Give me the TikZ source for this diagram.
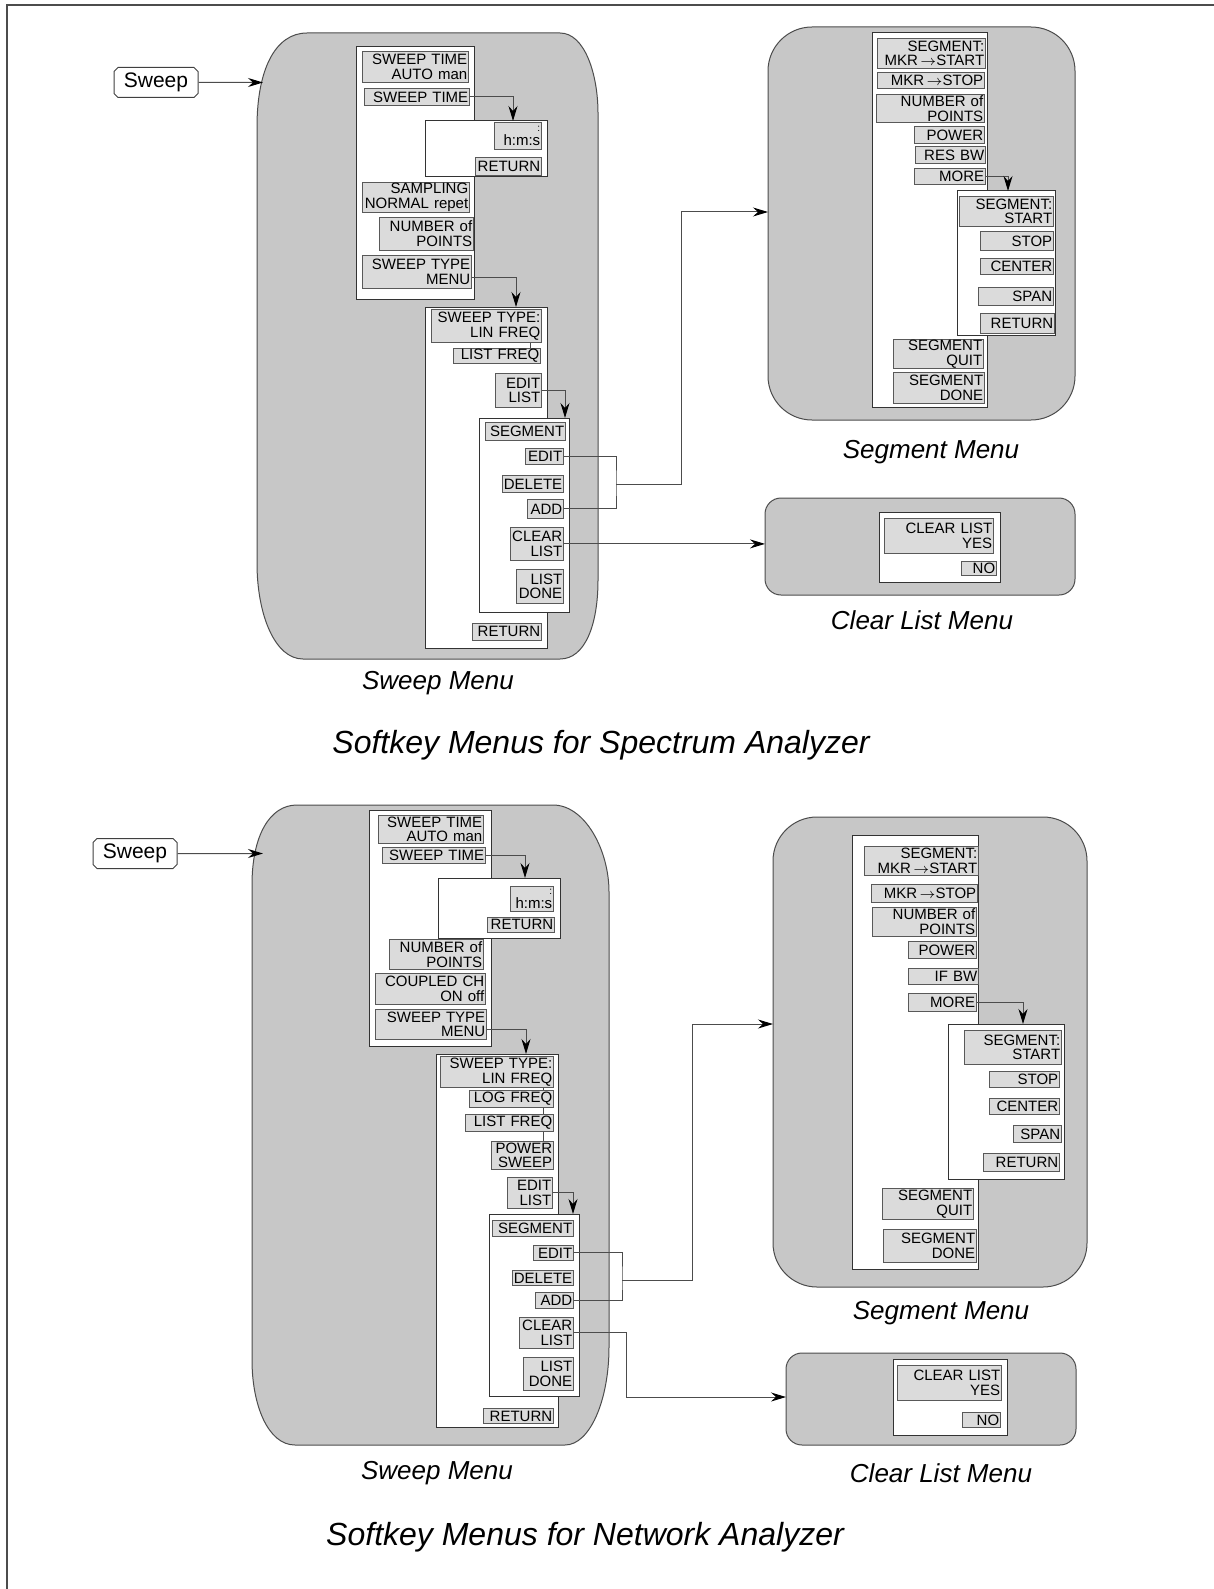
\documentclass[tikz,border=0pt]{standalone}
\usepackage{fontspec}
\setmainfont{Liberation Sans}
\usetikzlibrary{arrows.meta,shapes.misc,fit}

\tikzset{
  menubg/.style={draw=black!70, fill=black!22, line width=0.5pt},
  panel/.style={draw=black!80, fill=white, line width=0.5pt},
  softkey/.style={draw=black!65, fill=black!14, line width=0.4pt, inner xsep=0.6pt, inner ysep=0.3pt,
    align=right, anchor=north west, font=\fontsize{7.5}{7.4}\selectfont},
  hardkey/.style={chamfered rectangle, chamfered rectangle xsep=1pt, chamfered rectangle ysep=1pt,
    draw=black!75, fill=white, line width=0.5pt,
    minimum width=42pt, minimum height=15pt, inner sep=0pt, font=\fontsize{10.5}{12}\selectfont},
  link/.style={draw=black!70, line width=0.5pt},
  arr/.style={link, -{Stealth[length=7.5pt,width=4.5pt,inset=2.5pt,black]}},
  menulabel/.style={font=\fontsize{13}{15}\selectfont\itshape},
  titlelabel/.style={font=\fontsize{16}{19}\selectfont\itshape},
}
\newcommand\mkr{\,{\scriptsize$\rightarrow$}}

\begin{document}
\begin{tikzpicture}[x=0.5pt,y=-0.5pt]
    \useasboundingbox (0,0) rectangle (1214,1589);
    \draw[black!70, line width=0.6pt] (7,1589) -- (7,5) -- (1214,5);

    % ---------------- spectrum analyzer ----------------
    \draw[menubg] (257,127) .. controls (257,70) and (275,33) .. (307,33) -- (560,33)
        .. controls (585,33) and (598,75) .. (598,113) -- (598,580)
        .. controls (598,625) and (585,659) .. (560,659) -- (303,659)
        .. controls (275,659) and (257,615) .. (257,563) -- cycle;
    \draw[menubg, rounded corners=22pt] (768,27) rectangle (1075,420);
    \draw[menubg, rounded corners=8pt] (765,498) rectangle (1075,595);

    \node[panel, inner sep=0pt, fit={(356,47) (474,299)}] (swA) {};
    \node[panel, inner sep=0pt, fit={(425,121) (547,177)}] (hmsA) {};
    \node[panel, inner sep=0pt, fit={(425,307) (547,648)}] (typeA) {};
    \node[panel, inner sep=0pt, fit={(479,418) (569,612)}] (listA) {};
    \node[panel, inner sep=0pt, fit={(872,33) (987,407)}] (segA) {};
    \node[panel, inner sep=0pt, fit={(957,191) (1055,335)}] (moreA) {};
    \node[panel, inner sep=0pt, fit={(879,512) (1000,582)}] (clrA) {};

    \foreach \nm/\xa/\ya/\xb/\yb/\txt in {
        sA1/362/51/468/82/{SWEEP~TIME\\AUTO~man}, sA2/364/88/469/105/{SWEEP~TIME},
        sA3/362/182/469/212/{SAMPLING\\NORMAL~repet}, sA4/379/217/473/250/{NUMBER~of\\POINTS},
        sA5/362/255/471/288/{SWEEP~TYPE\\MENU},
        sB1/494/122/541/149/{{\tiny :}\hspace*{9pt}\\h:m:s}, sB2/475/157/541/175/{RETURN},
        sC1/431/309/541/342/{SWEEP~TYPE:\\LIN~FREQ}, sC2/453/348/540/363/{LIST~FREQ},
        sC3/495/373/541/407/{EDIT\\LIST}, sC4/472/623/541/640/{RETURN},
        sD1/485/422/565/440/{SEGMENT}, sD2/525/448/563/464/{EDIT},
        sD3/502/475/563/492/{DELETE}, sD4/527/499/563/518/{ADD},
        sD5/510/527/563/560/{CLEAR\\LIST}, sD6/516/569/563/603/{LIST\\DONE},
        eE1/877/38/985/68/{SEGMENT:\\MKR\mkr START}, eE2/877/72/984/88/{MKR\mkr STOP},
        eE3/876/94/984/122/{NUMBER~of\\POINTS}, eE4/914/126/984/143/{POWER},
        eE5/915/146/985/163/{RES~BW}, eE6/914/168/985/184/{MORE},
        eE7/893/339/983/368/{SEGMENT\\QUIT}, eE8/893/372/984/403/{SEGMENT\\DONE},
        fF1/959/196/1053/226/{SEGMENT:\\START}, fF2/980/231/1053/250/{STOP},
        fF3/980/258/1053/274/{CENTER}, fF4/978/287/1053/305/{SPAN},
        fF5/980/313/1054/333/{RETURN},
        gG1/884/518/993/553/{CLEAR~LIST\\YES}, gG2/961/561/996/575/{NO}}{
        \pgfmathsetmacro\kw{(\xb-\xa)/2-1.2}
        \pgfmathsetmacro\kh{(\yb-\ya)/2}
        \node[softkey, text width=\kw pt, minimum height=\kh pt] (\nm) at (\xa,\ya) {\txt};
    }

    \node[hardkey] (hkA) at (156,82.5) {Sweep};
    \coordinate (swTipA) at (263,82.5);
    \coordinate (tipB) at (513,121);
    \coordinate (tipC) at (516,307);
    \coordinate (tipD) at (565,418);
    \coordinate (tipF) at (1008,191);
    \coordinate (brA) at (616,484);
    \coordinate (segTipA) at (768,212);
    \coordinate (clrTipA) at (765,545);

    \draw[arr] (hkA) -- (swTipA);
    \draw[arr] (sA2.east) -| (tipB);
    \draw[arr] ([yshift=-3pt]sA5.east) -| (tipC);
    \draw[arr] (sC3.east) -| (tipD);
    \draw[arr] (eE6.east) -| (tipF);
    \draw[link] ([xshift=-5.5pt]sC1.south east) -- ([xshift=-5.5pt]sC1.south east |- sC2.north);
    \draw[link] (sD2.east) -| (brA) |- (sD4.east);
    \draw[arr] (brA) -- (681,484) |- (segTipA);
    \draw[arr] (sD5.east) -- (sD5.east -| clrTipA);

    \node[menulabel] (lblSwA) at (438,683) {Sweep Menu};
    \node[menulabel] (lblSegA) at (931,452) {Segment Menu};
    \node[menulabel] (lblClrA) at (922,620) {Clear List Menu};
    \node[titlelabel] (titleA) at (601,745) {Softkey Menus for Spectrum Analyzer};

    % ---------------- network analyzer ----------------
    \draw[menubg] (252,885) .. controls (252,835) and (270,805) .. (297,805) -- (553,805)
        .. controls (585,805) and (609,850) .. (609,892) -- (609,1347)
        .. controls (609,1400) and (590,1445) .. (565,1445) -- (295,1445)
        .. controls (268,1445) and (252,1405) .. (252,1360) -- cycle;
    \draw[menubg, rounded corners=22pt] (773,817) rectangle (1087,1287);
    \draw[menubg, rounded corners=8pt] (786,1353) rectangle (1076,1445);

    \node[panel, inner sep=0pt, fit={(369,810) (491,1046)}] (swB) {};
    \node[panel, inner sep=0pt, fit={(438,878) (560,938)}] (hmsB) {};
    \node[panel, inner sep=0pt, fit={(436,1054) (558,1427)}] (typeB) {};
    \node[panel, inner sep=0pt, fit={(489,1214) (579,1396)}] (listB) {};
    \node[panel, inner sep=0pt, fit={(852,835) (978,1269)}] (segB) {};
    \node[panel, inner sep=0pt, fit={(948,1024) (1064,1179)}] (moreB) {};
    \node[panel, inner sep=0pt, fit={(893,1359) (1007,1435)}] (clrB) {};

    \foreach \nm/\xa/\ya/\xb/\yb/\txt in {
        hH1/378/815/483/843/{SWEEP~TIME\\AUTO~man}, hH2/382/847/485/863/{SWEEP~TIME},
        hH3/389/939/483/969/{NUMBER~of\\POINTS}, hH4/375/973/485/1004/{COUPLED~CH\\ON~off},
        hH5/375/1009/486/1039/{SWEEP~TYPE\\MENU},
        iI1/510/886/553/911/{{\tiny :}\hspace*{9pt}\\h:m:s}, iI2/487/917/554/932/{RETURN},
        jJ1/440/1056/553/1087/{SWEEP~TYPE:\\LIN~FREQ}, jJ2/469/1090/553/1107/{LOG~FREQ},
        jJ3/465/1114/553/1131/{LIST~FREQ}, jJ4/491/1141/553/1169/{POWER\\SWEEP},
        jJ5/507/1177/552/1208/{EDIT\\LIST}, jJ6/483/1408/553/1423/{RETURN},
        kK1/492/1220/573/1236/{SEGMENT}, kK2/533/1245/573/1260/{EDIT},
        kK3/512/1270/573/1285/{DELETE}, kK4/535/1292/573/1308/{ADD},
        kK5/519/1317/573/1348/{CLEAR\\LIST}, kK6/523/1357/573/1390/{LIST\\DONE},
        lL1/864/846/978/875/{SEGMENT:\\MKR\mkr START}, lL2/871/884/977/902/{MKR\mkr STOP},
        lL3/872/907/976/936/{NUMBER~of\\POINTS}, lL4/908/941/976/958/{POWER},
        lL5/908/968/978/984/{IF~BW}, lL6/908/993/976/1011/{MORE},
        lL7/882/1188/973/1219/{SEGMENT\\QUIT}, lL8/883/1229/976/1262/{SEGMENT\\DONE},
        mM1/964/1030/1061/1064/{SEGMENT:\\START}, mM2/989/1071/1059/1087/{STOP},
        mM3/989/1098/1059/1114/{CENTER}, mM4/1013/1125/1061/1142/{SPAN},
        mM5/983/1153/1059/1171/{RETURN},
        nN1/897/1365/1001/1400/{CLEAR~LIST\\YES}, nN2/962/1412/1000/1427/{NO}}{
        \pgfmathsetmacro\kw{(\xb-\xa)/2-1.2}
        \pgfmathsetmacro\kh{(\yb-\ya)/2}
        \node[softkey, text width=\kw pt, minimum height=\kh pt] (\nm) at (\xa,\ya) {\txt};
    }

    \node[hardkey] (hkB) at (135,853.5) {Sweep};
    \coordinate (swTipB) at (263,853.5);
    \coordinate (tipI) at (525,878);
    \coordinate (tipJ) at (526,1054);
    \coordinate (tipK) at (573,1214);
    \coordinate (tipM) at (1023,1024);
    \coordinate (brB) at (622,1280);
    \coordinate (segTipB) at (773,1024);
    \coordinate (brC) at (626,1397);
    \coordinate (clrTipB) at (786,1397);

    \draw[arr] (hkB) -- (swTipB);
    \draw[arr] (hH2.east) -| (tipI);
    \draw[arr] ([yshift=-2.5pt]hH5.east) -| (tipJ);
    \draw[arr] (jJ5.east) -| (tipK);
    \draw[arr] (lL6.east) -| (tipM);
    \foreach \ka/\kb in {jJ1/jJ2, jJ2/jJ3, jJ3/jJ4}{
        \draw[link] ([xshift=-5pt]\ka.south east) -- ([xshift=-5pt]\ka.south east |- \kb.north);
    }
    \draw[link] (kK2.east) -| (brB) |- (kK4.east);
    \draw[arr] (brB) -- (692,1280) |- (segTipB);
    \draw[arr] (kK5.east) -- (kK5.east -| brC) -- (brC) -- (clrTipB);

    \node[menulabel] (lblSwB) at (437,1473) {Sweep Menu};
    \node[menulabel] (lblSegB) at (941,1313) {Segment Menu};
    \node[menulabel] (lblClrB) at (941,1473) {Clear List Menu};
    \node[titlelabel] (titleB) at (585,1537) {Softkey Menus for Network Analyzer};
\end{tikzpicture}
\end{document}
